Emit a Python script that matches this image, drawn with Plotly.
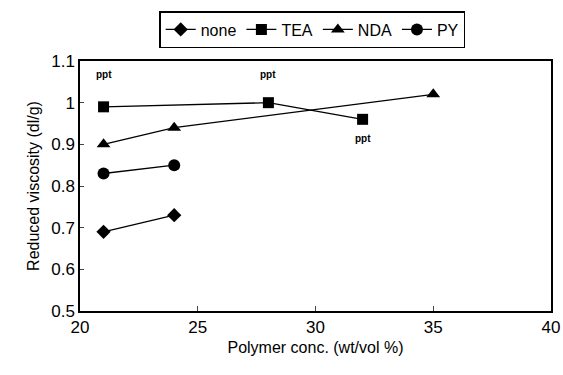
import plotly.graph_objects as go

none_x = [21, 24]
none_y = [0.69, 0.73]
tea_x = [21, 28, 32]
tea_y = [0.99, 1.00, 0.96]
nda_x = [21, 24, 35]
nda_y = [0.90, 0.94, 1.02]
py_x = [21, 24]
py_y = [0.83, 0.85]

ppt_x = [21, 28, 32]
ppt_y = [1.068, 1.068, 0.915]
ppt_text = ["ppt", "ppt", "ppt"]

x_ticks = [20, 25, 30, 35, 40]
y_ticks = [0.5, 0.6, 0.7, 0.8, 0.9, 1.0, 1.1]
y_labels = ["0.5", "0.6", "0.7", "0.8", "0.9", "1", "1.1"]

font = "Liberation Sans, Arial, sans-serif"

fig = go.Figure()
series = [
    ("none", none_x, none_y, "diamond", 11),
    ("TEA", tea_x, tea_y, "square", 11),
    ("NDA", nda_x, nda_y, "triangle-up", 12),
    ("PY", py_x, py_y, "circle", 12),
]
for name, xs, ys, sym, sz in series:
    fig.add_trace(go.Scatter(
        x=xs, y=ys, name=name, mode="lines+markers",
        line=dict(color="black", width=1.3),
        marker=dict(symbol=sym, size=sz, color="black"),
    ))

for x, y, t in zip(ppt_x, ppt_y, ppt_text):
    fig.add_annotation(x=x, y=y, text="<b>" + t + "</b>", showarrow=False,
                       font=dict(size=10, color="black", family=font))

fig.update_layout(
    width=563, height=375,
    margin=dict(l=80, r=12, t=61, b=64, autoexpand=False),
    plot_bgcolor="white", paper_bgcolor="white",
    font=dict(family=font, size=17, color="black"),
    showlegend=True,
    legend=dict(orientation="h", x=0.493, xanchor="center", y=1.2, yanchor="top",
                bordercolor="black", borderwidth=1.5,
                font=dict(size=16), itemwidth=30, tracegroupgap=0),
    xaxis=dict(range=[20, 40], tickvals=x_ticks, ticks="inside", ticklen=5,
               showline=True, linecolor="black", linewidth=1.5, mirror=True,
               showgrid=False, zeroline=False,
               title=dict(text="Polymer conc. (wt/vol %)", font=dict(size=16), standoff=6)),
    yaxis=dict(range=[0.5, 1.1], tickvals=y_ticks, ticktext=y_labels, ticks="inside", ticklen=4,
               showline=True, linecolor="black", linewidth=1.5, mirror=True,
               showgrid=False, zeroline=False,
               title=dict(text="Reduced viscosity (dl/g)", font=dict(size=16), standoff=8)),
)

fig.write_html("out.html")
